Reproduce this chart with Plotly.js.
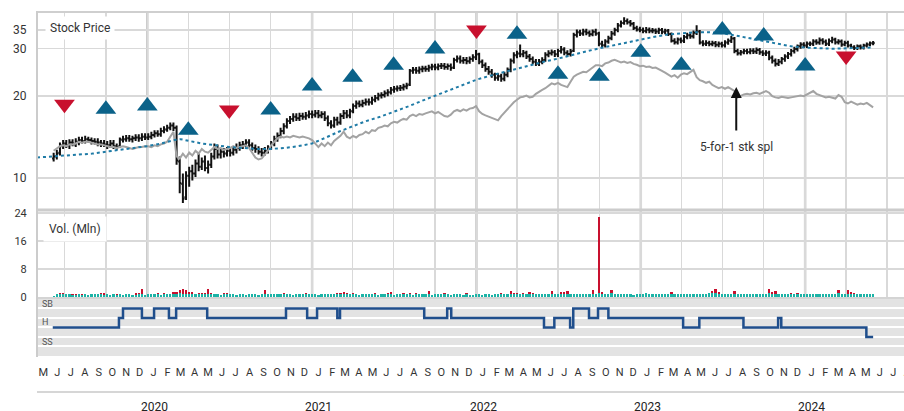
<!DOCTYPE html>
<html><head><meta charset="utf-8">
<script src="https://cdn.plot.ly/plotly-3.0.1.min.js"></script>
<style>html,body{margin:0;padding:0;overflow:hidden;background:#fff}#chart{width:930px;height:411px}</style>
</head><body><div id="chart"></div>
<script>
// ---------- weekly price bars (first week ending 2019-06-07) ----------
const priceOpen = [
11.8,12.0,12.4,13.1,13.4,13.2,13.5,13.3,13.6,13.8,
13.7,13.9,13.8,13.7,13.6,13.5,13.4,13.3,13.2,13.4,
13.1,13.1,13.8,13.9,14.0,13.9,14.0,14.1,14.0,14.2,
14.1,14.2,14.4,14.6,14.5,14.9,15.1,15.3,15.6,15.3,
11.5,9.5,8.5,10.2,10.6,10.4,11.3,11.0,11.5,10.9,
11.2,12.0,12.8,12.2,12.5,12.3,12.6,12.4,12.7,12.9,
13.2,13.3,13.5,13.2,12.9,12.8,12.5,12.4,12.6,12.9,
13.4,13.9,14.3,14.9,15.5,16.2,16.5,16.8,16.6,16.9,
16.8,17.0,17.2,17.1,17.3,17.0,17.2,16.6,15.9,15.6,
16.4,16.0,16.9,17.3,17.0,17.6,18.4,18.8,18.6,18.9,
19.1,19.0,19.4,19.7,20.1,20.2,20.5,20.7,21.1,21.3,
21.4,21.5,21.7,22.1,24.8,25.0,24.8,25.1,25.3,25.2,
25.5,25.7,25.5,25.8,25.9,25.6,25.8,25.5,27.2,27.5,
27.0,27.2,26.9,27.4,27.8,28.5,26.8,26.0,25.2,24.6,
24.0,23.4,23.7,23.2,24.0,25.0,27.0,28.3,28.7,28.5,
28.9,28.0,27.4,26.8,26.4,26.8,27.2,28.4,28.8,29.0,
28.5,29.3,29.7,28.9,28.6,29.4,33.6,34.4,34.0,34.6,
34.2,33.8,34.5,34.0,31.2,30.8,31.8,32.7,34.0,35.0,
36.4,37.2,37.8,37.4,36.9,35.6,35.2,35.0,34.7,35.1,
34.8,34.9,34.6,35.0,34.5,34.8,33.9,32.0,31.6,32.3,
32.0,33.0,33.5,33.2,34.2,34.6,31.5,31.2,31.4,31.1,
31.3,30.9,31.2,30.8,31.5,32.0,32.6,29.3,28.8,29.0,
29.3,29.1,29.4,29.2,29.6,29.0,28.7,28.9,27.7,27.0,
26.3,26.8,27.4,28.0,28.6,29.3,29.8,30.5,31.0,30.7,
31.2,31.2,31.8,31.5,32.1,31.7,31.2,31.9,32.3,31.6,
31.8,31.0,31.4,30.7,30.3,30.1,30.5,30.2,30.7,31.0,31.3];
const priceHigh = [
12.4,12.7,13.5,13.8,13.8,13.9,13.9,14.0,14.2,14.2,
14.3,14.2,14.1,14.0,14.0,13.8,13.8,13.7,13.8,13.8,
13.4,14.1,14.3,14.4,14.4,14.3,14.5,14.5,14.6,14.6,
14.6,14.8,15.0,15.0,15.3,15.5,15.7,16.0,16.0,15.6,
12.0,10.4,10.6,11.0,11.2,11.7,12.3,11.9,12.1,11.6,
12.4,13.4,13.3,12.9,12.9,13.0,12.9,13.1,13.4,13.6,
13.7,13.9,13.9,13.5,13.3,13.1,12.9,13.0,13.2,13.7,
14.3,14.7,15.3,15.9,16.6,16.9,17.3,17.3,17.4,17.4,
17.5,17.7,17.7,17.8,17.8,17.6,17.6,17.0,16.3,16.8,
16.8,17.3,17.8,17.8,18.0,18.8,19.3,19.3,19.4,19.6,
19.6,19.9,20.2,20.6,20.7,21.0,21.2,21.6,21.8,21.9,
22.0,22.2,22.4,25.2,25.6,25.6,25.7,25.9,25.9,26.1,
26.3,26.3,26.4,26.5,26.5,26.4,26.4,27.7,28.2,28.2,
27.9,27.9,28.0,28.5,29.6,28.9,27.3,26.6,25.8,25.2,
24.4,24.3,24.2,24.6,25.5,27.5,29.0,29.4,31.0,29.6,
29.4,28.6,28.0,27.4,27.4,27.8,29.0,29.5,29.7,29.6,
29.9,30.6,30.3,29.5,29.8,34.2,35.2,35.1,35.4,35.4,
34.9,35.2,35.4,34.5,32.0,32.4,33.4,34.7,35.7,37.2,
38.0,39.0,38.6,38.1,37.5,36.3,36.0,35.8,35.9,35.8,
35.6,35.5,35.7,35.6,35.4,35.3,34.3,32.7,32.9,32.9,
33.6,34.2,34.1,34.9,36.5,35.0,32.1,32.1,32.0,32.0,
31.9,31.8,31.7,32.1,32.6,33.3,33.0,29.9,29.6,29.9,
29.9,30.0,30.0,30.2,30.1,29.5,29.5,29.4,28.2,27.5,
27.4,27.9,28.5,29.1,29.8,30.4,31.0,31.6,31.6,31.8,
31.8,32.4,32.4,32.9,32.7,32.3,32.6,33.1,32.8,32.4,
32.3,32.0,32.0,31.2,30.8,31.0,31.0,31.2,31.5,31.8,31.9];
const priceLow = [
11.5,11.7,12.1,12.8,12.9,12.8,13.1,13.0,13.2,13.4,
13.4,13.5,13.3,13.3,13.1,13.0,13.0,12.8,12.9,12.8,
12.7,12.9,13.5,13.6,13.6,13.5,13.7,13.6,13.7,13.8,
13.8,13.9,14.1,14.2,14.2,14.6,14.8,15.0,14.9,11.2,
8.8,8.1,8.3,9.3,9.8,10.1,10.6,10.7,10.6,10.4,
10.9,11.7,11.8,11.8,11.9,12.0,12.0,12.1,12.3,12.6,
12.8,13.0,12.9,12.6,12.4,12.2,12.0,12.1,12.3,12.7,
13.1,13.6,14.0,14.5,15.2,15.8,16.1,16.2,16.2,16.4,
16.4,16.6,16.6,16.7,16.6,16.6,16.2,15.5,15.2,15.3,
15.6,15.7,16.5,16.6,16.6,17.3,18.0,18.2,18.2,18.5,
18.5,18.6,19.0,19.3,19.6,19.8,20.0,20.3,20.6,20.8,
20.9,21.0,21.2,21.8,24.2,24.2,24.2,24.5,24.6,24.6,
24.9,24.9,24.9,25.2,25.0,25.0,24.8,25.2,26.6,26.4,
26.3,26.2,26.3,26.8,27.2,26.2,25.4,24.6,24.0,23.4,
22.8,22.8,22.6,22.7,23.5,24.5,26.4,27.6,27.8,27.8,
27.4,26.8,26.2,25.8,25.8,26.2,26.8,27.8,28.2,27.9,
27.9,28.7,28.3,28.0,28.0,29.1,32.9,33.3,33.4,33.5,
33.1,33.2,33.4,30.5,30.1,30.2,31.2,32.1,33.4,34.4,
35.8,36.6,36.7,36.1,35.0,34.6,34.4,34.1,34.1,34.1,
34.1,33.9,33.9,33.8,33.8,33.3,31.5,31.0,31.0,31.3,
31.4,32.4,32.5,32.6,33.6,31.0,30.5,30.6,30.5,30.5,
30.3,30.3,30.2,30.2,30.9,31.4,28.8,28.2,28.2,28.5,
28.5,28.5,28.6,28.6,28.4,28.1,28.1,27.1,26.4,25.7,
25.8,26.2,26.8,27.4,28.0,28.7,29.2,29.9,30.1,30.1,
30.6,30.6,30.9,30.9,31.0,30.6,30.6,31.3,31.0,31.0,
30.4,30.5,30.2,29.8,29.6,29.6,29.7,29.7,30.2,30.5,30.8];
const priceClose = [
12.0,12.3,13.2,13.4,13.2,13.5,13.4,13.6,13.8,13.7,
13.9,13.8,13.7,13.6,13.5,13.4,13.3,13.2,13.4,13.1,
13.0,13.9,13.9,14.0,13.9,14.0,14.1,14.0,14.2,14.1,
14.2,14.4,14.6,14.5,14.9,15.1,15.3,15.6,15.3,11.6,
9.6,8.4,10.2,10.6,10.4,11.3,11.0,11.5,10.9,11.2,
12.0,12.8,12.2,12.5,12.3,12.6,12.4,12.7,12.9,13.2,
13.3,13.5,13.2,12.9,12.8,12.5,12.4,12.6,12.9,13.4,
13.9,14.3,14.9,15.5,16.2,16.5,16.8,16.6,16.9,16.8,
17.0,17.2,17.1,17.3,17.0,17.2,16.6,15.9,15.6,16.4,
16.0,16.9,17.3,17.0,17.6,18.4,18.8,18.6,18.9,19.1,
19.0,19.4,19.7,20.1,20.2,20.5,20.7,21.1,21.3,21.4,
21.5,21.7,21.9,24.8,25.0,24.8,25.1,25.3,25.2,25.5,
25.7,25.5,25.8,25.9,25.6,25.8,25.4,27.2,27.5,27.0,
27.2,26.9,27.4,27.8,28.5,26.8,26.0,25.2,24.6,24.0,
23.4,23.7,23.2,24.0,25.0,27.0,28.3,28.7,28.5,28.9,
28.0,27.4,26.8,26.4,26.8,27.2,28.4,28.8,29.0,28.5,
29.3,29.7,28.9,28.6,29.2,33.6,34.4,34.0,34.6,34.2,
33.8,34.5,34.0,31.2,30.8,31.8,32.7,34.0,35.0,36.4,
37.2,37.8,37.4,36.9,35.6,35.2,35.0,34.7,35.1,34.8,
34.9,34.6,35.0,34.5,34.8,33.9,32.0,31.6,32.3,32.0,
33.0,33.5,33.2,34.2,34.6,31.5,31.2,31.4,31.1,31.3,
30.9,31.2,30.8,31.5,32.0,32.6,29.3,28.8,29.0,29.3,
29.1,29.4,29.2,29.6,29.0,28.7,28.9,27.7,27.0,26.3,
26.8,27.4,28.0,28.6,29.3,29.8,30.5,31.0,30.7,31.2,
31.2,31.8,31.5,32.1,31.7,31.2,31.9,32.3,31.6,31.8,
31.0,31.4,30.7,30.3,30.1,30.5,30.2,30.7,31.0,31.3,31.4];
// grey comparison line (same weeks)
const greyLine = [
12.6,12.8,13.1,13.2,13.1,13.3,13.3,13.4,13.6,13.5,
13.6,13.6,13.5,13.4,13.3,13.3,13.2,13.1,13.0,13.0,
12.9,13.0,13.1,13.0,12.9,12.8,12.9,13.0,13.0,13.1,
13.1,13.0,13.2,13.1,13.3,13.4,13.6,14.2,14.8,12.0,
11.8,12.3,11.9,12.4,12.1,12.6,12.3,12.8,12.5,12.4,
12.7,13.0,12.8,12.9,12.7,12.8,12.9,13.1,12.9,13.0,
13.1,13.2,12.9,12.4,11.9,11.7,11.8,12.2,12.6,13.2,
13.6,14.0,14.2,14.1,14.2,14.1,14.3,14.2,14.1,14.2,
14.1,14.0,13.8,13.4,13.0,13.4,13.1,13.5,13.2,13.7,
14.0,14.3,14.8,14.2,14.0,14.3,14.1,14.4,14.5,14.8,
14.6,15.0,14.9,15.3,15.4,15.6,15.5,15.9,16.1,16.0,
16.3,16.5,16.4,16.9,17.1,16.9,17.2,17.1,17.3,17.4,
17.6,17.3,17.5,17.2,16.9,16.8,17.1,17.6,17.8,17.6,
17.9,17.7,18.0,18.1,18.4,17.6,17.2,17.0,16.8,16.6,
16.4,16.3,16.9,17.4,17.9,18.5,19.0,19.4,19.8,19.9,
20.1,19.8,19.9,20.4,20.8,21.1,21.4,21.9,22.3,22.1,
22.4,22.0,21.8,21.6,22.6,23.6,24.0,24.3,24.6,24.5,
25.0,25.6,26.0,26.0,25.8,26.4,26.6,27.0,27.2,26.9,
26.6,26.8,26.5,26.7,26.3,26.1,25.8,25.9,25.6,25.7,
25.4,25.5,25.2,24.8,24.4,24.0,23.6,23.9,23.4,24.0,
24.3,24.1,24.6,25.0,23.5,22.9,22.7,22.4,22.6,22.0,
21.7,21.4,21.6,21.3,21.6,21.2,20.9,19.8,20.1,20.3,
20.4,20.3,20.5,20.6,20.4,20.7,20.9,20.6,20.0,19.8,
19.7,19.9,19.8,19.7,19.8,19.9,20.0,20.1,20.0,20.3,
20.6,20.9,20.4,20.2,20.0,19.8,19.9,19.7,19.6,20.2,
19.9,19.0,18.8,19.1,18.9,18.6,18.8,18.7,18.9,18.6,18.2];
// weekly volume (Mln): base part and above-average part
const volBase = [
0.4,0.75,0.85,0.85,0.75,0.75,0.6,0.65,0.75,0.65,
0.75,0.7,0.75,0.85,0.75,0.8,0.7,0.75,0.65,0.75,
0.65,0.75,0.7,0.75,0.75,0.65,0.7,0.75,0.75,0.7,
0.75,0.8,0.75,0.75,0.7,0.75,0.75,0.85,0.9,0.95,
1.0,0.95,0.9,0.85,0.85,0.8,0.75,0.85,0.8,0.85,
0.75,0.8,0.75,0.7,0.8,0.75,0.75,0.8,0.7,0.75,
0.75,0.7,0.75,0.8,0.75,0.7,0.75,0.8,0.75,0.75,
0.8,0.75,0.85,0.8,0.75,0.75,0.7,0.75,0.8,0.75,
0.85,0.8,0.75,0.75,0.7,0.75,0.8,0.85,0.75,0.8,
0.75,0.8,0.85,0.75,0.75,0.8,0.75,0.7,0.75,0.75,
0.8,0.75,0.75,0.7,0.75,0.75,0.8,0.75,0.7,0.75,
0.75,0.8,0.75,0.75,0.7,0.75,0.8,0.75,0.75,0.75,
0.7,0.75,0.75,0.8,0.75,0.75,0.7,0.75,0.8,0.75,
0.7,0.75,0.7,0.65,0.8,0.75,0.7,0.8,0.75,0.7,
0.8,0.75,0.85,0.8,0.75,0.85,0.8,0.75,0.8,0.85,
0.8,0.75,0.85,0.8,0.75,0.8,0.85,0.8,0.9,0.8,
0.75,0.85,0.8,0.9,0.85,0.8,0.75,0.8,0.85,0.8,
0.9,0.85,0.8,1.05,0.9,0.85,0.9,1.0,0.85,0.8,
0.9,0.75,0.85,0.8,0.7,0.9,0.8,0.75,1.0,0.85,
0.8,0.9,0.85,0.75,0.8,0.9,0.85,0.8,0.75,0.85,
0.9,0.8,0.85,0.9,0.75,0.85,0.9,0.95,1.0,1.1,
1.05,0.95,0.9,0.85,0.8,0.9,0.85,0.8,0.75,0.9,
0.85,0.8,0.9,0.85,0.8,0.85,0.9,1.0,0.9,0.95,
0.9,0.85,0.8,0.85,0.9,0.8,0.9,0.85,0.8,0.9,
0.85,0.9,0.8,0.85,0.9,0.95,0.85,0.9,0.8,1.0,
0.9,0.85,0.95,0.9,0.85,0.8,0.85,0.8,0.75,0.8,0.85];
const volExtra = [
0,0,0.3,0.3,0,0,0.3,0.3,0,0.3,
0,0,0,0,0,0.3,0.3,0,0,0,
0.3,0,0,0,0,0,0.3,0.3,1.45,0,
0,0,0,0.3,0,0.3,0,0,0.5,0.45,
1.0,1.45,1.1,0.55,0.55,0,0.3,0.3,0.3,1.35,
0.3,0,0,0,0.4,0.3,0,0,0,0,
0,0,0,0,0,0,0,1.1,0,0,
0,0,0,0.3,0,0,0,0,0,0,
0.3,0,0,0,0,0,0,0,0,0,
0.3,0.3,0.55,0.3,0,0.3,0,0,0,0,
0,0,0.3,0,0,0,0.3,0.65,0,0,
0,0.3,0,0.3,0,0.3,0,0,0,0.95,
0,0,0,0,0.3,0,0,0,0,0,
0,0.4,0,0,0,0,0,0,0,0,
0,0,0.2,0,0,0.85,0.25,0.3,0,0.2,
0,0.65,0.2,0,0,0,0,0,0.8,0,
0,0.55,0.6,0.8,0,0,0,0,0,0,
0,1.15,0,21.85,0.5,0,0,1.0,0,0,
0,0,0,0,0,0,0,0,0,0,
0,0,0,0,0,0,0.55,0,0,0,
0,0,0,0,0,0,0,0,0,0.5,
1.15,0.55,0,0,0,0,0.75,0,0,0,
0,0,0,0,0,0,0,1.2,0.5,0.75,
0,0,0,0,0.3,0,0.3,0,0,0,
0,0,0,0,0,0,0,0,0,1.0,
0,0,1.05,0.5,0.3,0,0,0,0,0,0];
// 40-week moving average
const maDates = ['2019-05-01','2019-07-01','2019-09-01','2019-10-01','2019-11-01','2019-12-01','2020-01-01','2020-02-01','2020-03-01','2020-03-15','2020-04-01','2020-05-01','2020-06-01','2020-07-01','2020-08-01','2020-09-01','2020-10-01','2020-11-01','2020-12-01','2021-01-01','2021-02-01','2021-03-01','2021-04-01','2021-05-01','2021-06-01','2021-07-01','2021-08-01','2021-09-01','2021-10-01','2021-11-01','2021-12-01','2022-01-01','2022-02-01','2022-03-01','2022-04-01','2022-05-01','2022-06-01','2022-07-01','2022-08-01','2022-09-01','2022-10-01','2022-11-01','2022-12-01','2023-01-01','2023-02-01','2023-03-01','2023-04-01','2023-05-01','2023-06-01','2023-07-01','2023-08-01','2023-09-01','2023-10-01','2023-11-01','2023-12-01','2024-01-01','2024-02-01','2024-03-01','2024-04-01','2024-05-01','2024-05-31'];
const maValues = [11.9,12.1,12.3,12.5,12.7,12.9,13.1,13.4,13.8,13.9,13.7,13.4,13.2,13.0,12.9,12.8,12.8,12.9,13.1,13.4,14.1,14.8,15.5,16.2,16.8,17.5,18.3,19.2,20.1,21.0,22.0,23.0,23.8,24.5,25.2,26.0,26.8,27.5,28.4,29.2,30.0,30.8,31.5,32.3,33.1,33.7,34.1,34.4,34.4,34.1,33.4,32.6,31.9,31.1,30.5,30.2,30.0,29.9,30.0,30.1,30.2];
// quarterly signal markers
const sigDates = ['2019-07-01','2019-10-01','2020-01-01','2020-04-01','2020-07-01','2020-10-01','2021-01-01','2021-04-01','2021-07-01','2021-10-01','2022-01-01','2022-04-01','2022-07-01','2022-10-01','2023-01-01','2023-04-01','2023-07-01','2023-10-01','2024-01-01','2024-04-01'];
const sigValues = [18.7,17.9,18.4,15.0,17.8,17.8,21.8,23.5,26.0,29.8,35.0,33.8,24.1,23.7,29.0,26.0,35.0,33.3,25.8,28.1];
const sigDir = ['down','up','up','up','down','up','up','up','up','up','down','up','up','up','up','up','up','up','up','down'];
// rating steps (5=SB, 4=B, 3=H, 2=S, 1=SS)
const ratingDates = ['2019-06-05','2019-10-30','2019-11-08','2019-12-20','2020-01-16','2020-02-18','2020-03-05','2020-05-13','2020-11-04','2020-12-21','2021-01-12','2021-02-26','2021-03-04','2021-09-07','2021-10-28','2021-11-06','2022-05-31','2022-06-23','2022-07-28','2022-08-04','2022-09-08','2022-09-28','2022-10-21','2023-04-05','2023-05-11','2023-08-17','2023-11-02','2023-11-09','2024-05-16','2024-05-31'];
const ratingValues = [3,4,5,4,5,4,5,4,5,4,5,4,5,4,5,4,3,4,3,5,4,5,4,3,4,3,4,3,2,2];
const priceTicks = [10,20,30,35];
const volTicks = [0,8,16,24];
const monthLetters = ['J','F','M','A','M','J','J','A','S','O','N','D'];
const years = [2020,2021,2022,2023,2024];

// ---------- build ----------
const H = 411;
const py = p => 1 - p / H;
const t0 = Date.UTC(2019, 5, 7);
const weeks = priceClose.map((_, i) => new Date(t0 + i * 7 * 86400000).toISOString().slice(0, 10));
const xRange = ['2019-05-01', '2024-09-01'];
const pad = n => String(n).padStart(2, '0');
const monthTicks = [], monthText = [];
for (let y = 2019; y <= 2024; y++) for (let m = 1; m <= 12; m++) {
  if ((y === 2019 && m < 5) || (y === 2024 && m > 8)) continue;
  monthTicks.push(`${y}-${pad(m)}-15`); monthText.push(monthLetters[m - 1]);
}
const quarterTicks = [];
for (let y = 2019; y <= 2024; y++) for (const m of [1, 4, 7, 10]) {
  const d = `${y}-${pad(m)}-01`; if (d > xRange[0] && d < xRange[1]) quarterTicks.push(d);
}
const FONT = 'Roboto, "Open Sans", "DejaVu Sans", sans-serif';
const gridC = '#d9d9d9';

const traces = [
  {type: 'scatter', mode: 'lines', x: weeks, y: greyLine, xaxis: 'x', yaxis: 'y',
   line: {color: '#a3a3a3', width: 2}, hoverinfo: 'skip'},
  {type: 'scatter', mode: 'lines', x: maDates, y: maValues, xaxis: 'x', yaxis: 'y',
   line: {color: '#1f7ba6', width: 2, dash: 'dot'}, hoverinfo: 'skip'},
  {type: 'ohlc', x: weeks, open: priceOpen, high: priceHigh, low: priceLow, close: priceClose,
   xaxis: 'x', yaxis: 'y', tickwidth: 0.5,
   increasing: {line: {color: '#111', width: 2}}, decreasing: {line: {color: '#111', width: 2}},
   hoverinfo: 'skip'},
  {type: 'scatter', mode: 'markers', x: sigDates, y: sigValues, xaxis: 'x', yaxis: 'y',
   marker: {symbol: sigDir.map(d => d === 'up' ? 'triangle-up' : 'triangle-down'),
            color: sigDir.map(d => d === 'up' ? '#0b6289' : '#c8102e'), size: 18, line: {width: 0}},
   hoverinfo: 'skip'},
  {type: 'bar', x: weeks, y: volBase, xaxis: 'x2', yaxis: 'y2', marker: {color: '#1bb3a6', line: {width: 0}}, hoverinfo: 'skip'},
  {type: 'bar', x: weeks, y: volExtra, xaxis: 'x2', yaxis: 'y2', marker: {color: '#c8102e', line: {width: 0}}, hoverinfo: 'skip'},
  {type: 'scatter', mode: 'lines', x: ratingDates, y: ratingValues, xaxis: 'x3', yaxis: 'y3',
   line: {color: '#1f4e8c', width: 2.5, shape: 'hv'}, hoverinfo: 'skip'}
];

const shapes = [
  {type: 'rect', xref: 'paper', yref: 'y3 domain', x0: 0, x1: 1, y0: 0, y1: 1, fillcolor: '#e3e3e3', line: {width: 0}, layer: 'below'},
  {type: 'line', xref: 'paper', yref: 'y domain', x0: 0, x1: 1, y0: 1, y1: 1, line: {color: '#cfcfcf', width: 2}},
  {type: 'line', xref: 'paper', yref: 'y domain', x0: 0, x1: 1, y0: 0, y1: 0, line: {color: '#cccccc', width: 3}},
  {type: 'line', xref: 'paper', yref: 'paper', x0: 0, x1: 1, y0: py(298), y1: py(298), line: {color: '#d4d4d4', width: 2}, layer: 'below'},
  {type: 'line', xref: 'paper', yref: 'paper', x0: 0, x1: 0, y0: py(357), y1: py(11), line: {color: '#cccccc', width: 2}},
  {type: 'line', xref: 'paper', yref: 'paper', x0: 0, x1: 1.05, y0: py(392), y1: py(392), line: {color: '#d6d6d6', width: 2}}
];
years.forEach(y => shapes.push({type: 'line', xref: 'x', yref: 'paper', x0: `${y}-01-01`, x1: `${y}-01-01`,
  y0: py(297), y1: py(12), line: {color: '#c9c9c9', width: 2.5}, layer: 'below'}));

const annotations = [
  {xref: 'paper', yref: 'paper', x: 8 / 878, y: py(28.5), xanchor: 'left', yanchor: 'middle', showarrow: false,
   text: 'Stock Price', bgcolor: '#ffffff', borderpad: 4, font: {family: FONT, size: 12, color: '#333'}},
  {xref: 'paper', yref: 'paper', x: 6 / 878, y: py(229), xanchor: 'left', yanchor: 'middle', showarrow: false,
   text: 'Vol. (Mln)', bgcolor: '#ffffff', borderpad: 5, font: {family: FONT, size: 12, color: '#333'}},
  {xref: 'x', yref: 'y', x: '2023-08-01', y: Math.log10(21.6), ax: 0, ay: 60, showarrow: true,
   arrowhead: 2, arrowsize: 1.1, arrowwidth: 2, arrowcolor: '#111', startstandoff: 8,
   text: '5-for-1 stk spl', font: {family: FONT, size: 12, color: '#333'}}
];
[[5.47, 'SB'], [3.58, 'H'], [1.47, 'SS']].forEach(([v, t]) => annotations.push(
  {xref: 'paper', yref: 'y3', x: 3 / 878, y: v, xanchor: 'left', yanchor: 'middle', showarrow: false,
   text: t, font: {family: FONT, size: 9, color: '#555'}}));
[[5.47, 'SB'], [1.47, 'SS']].forEach(([v, t]) => annotations.push(
  {xref: 'paper', yref: 'y3', x: 865 / 878, y: v, xanchor: 'left', yanchor: 'middle', showarrow: false,
   text: t, font: {family: FONT, size: 9, color: '#555'}}));
years.forEach(y => annotations.push({xref: 'x', yref: 'paper', x: `${y}-01-16`, y: py(407), showarrow: false,
  xanchor: 'center', yanchor: 'middle', text: String(y), font: {family: FONT, size: 12, color: '#222'}}));

const xCommon = {type: 'date', range: xRange, showgrid: true, gridcolor: gridC, gridwidth: 1.5,
  tickmode: 'array', tickvals: quarterTicks, showticklabels: false, ticks: '', zeroline: false, showline: false, fixedrange: true};

const layout = {
  width: 930, height: 411, margin: {l: 37, r: 15, t: 0, b: 0},
  paper_bgcolor: '#ffffff', plot_bgcolor: '#ffffff', showlegend: false,
  barmode: 'stack', bargap: 0.3, font: {family: FONT, color: '#333'},
  xaxis: Object.assign({}, xCommon, {anchor: 'y', domain: [0, 1], rangeslider: {visible: false}}),
  xaxis2: Object.assign({}, xCommon, {anchor: 'y2', domain: [0, 1]}),
  xaxis3: {type: 'date', range: xRange, anchor: 'y3', domain: [0, 1], showgrid: false, zeroline: false,
    tickmode: 'array', tickvals: monthTicks, ticktext: monthText, ticks: 'outside', ticklen: 6,
    tickcolor: 'rgba(0,0,0,0)', tickfont: {family: FONT, size: 11, color: '#333'}, showline: false},
  yaxis: {type: 'log', domain: [py(210), py(12)], range: [Math.log10(7.63), Math.log10(40.8)], anchor: 'x',
    tickmode: 'array', tickvals: priceTicks, ticktext: priceTicks.map(String), gridcolor: gridC, gridwidth: 1.5,
    ticks: 'outside', ticklen: 7, tickcolor: 'rgba(0,0,0,0)', tickfont: {family: FONT, size: 12, color: '#333'},
    zeroline: false, showline: false},
  yaxis2: {domain: [py(297), py(211)], range: [0, 24.5], anchor: 'x2', tickmode: 'array', tickvals: volTicks,
    gridcolor: gridC, gridwidth: 1.5, ticks: 'outside', ticklen: 7, tickcolor: 'rgba(0,0,0,0)',
    tickfont: {family: FONT, size: 11, color: '#333'}, zeroline: false, showline: false},
  yaxis3: {domain: [py(356), py(298)], range: [0, 6.1], anchor: 'x3', tickmode: 'array', tickvals: [1, 2, 3, 4, 5],
    showticklabels: false, gridcolor: '#ffffff', gridwidth: 2, zeroline: false, showline: false, ticks: ''},
  shapes: shapes, annotations: annotations
};
Plotly.newPlot('chart', traces, layout, {staticPlot: true, displayModeBar: false});
</script></body></html>
